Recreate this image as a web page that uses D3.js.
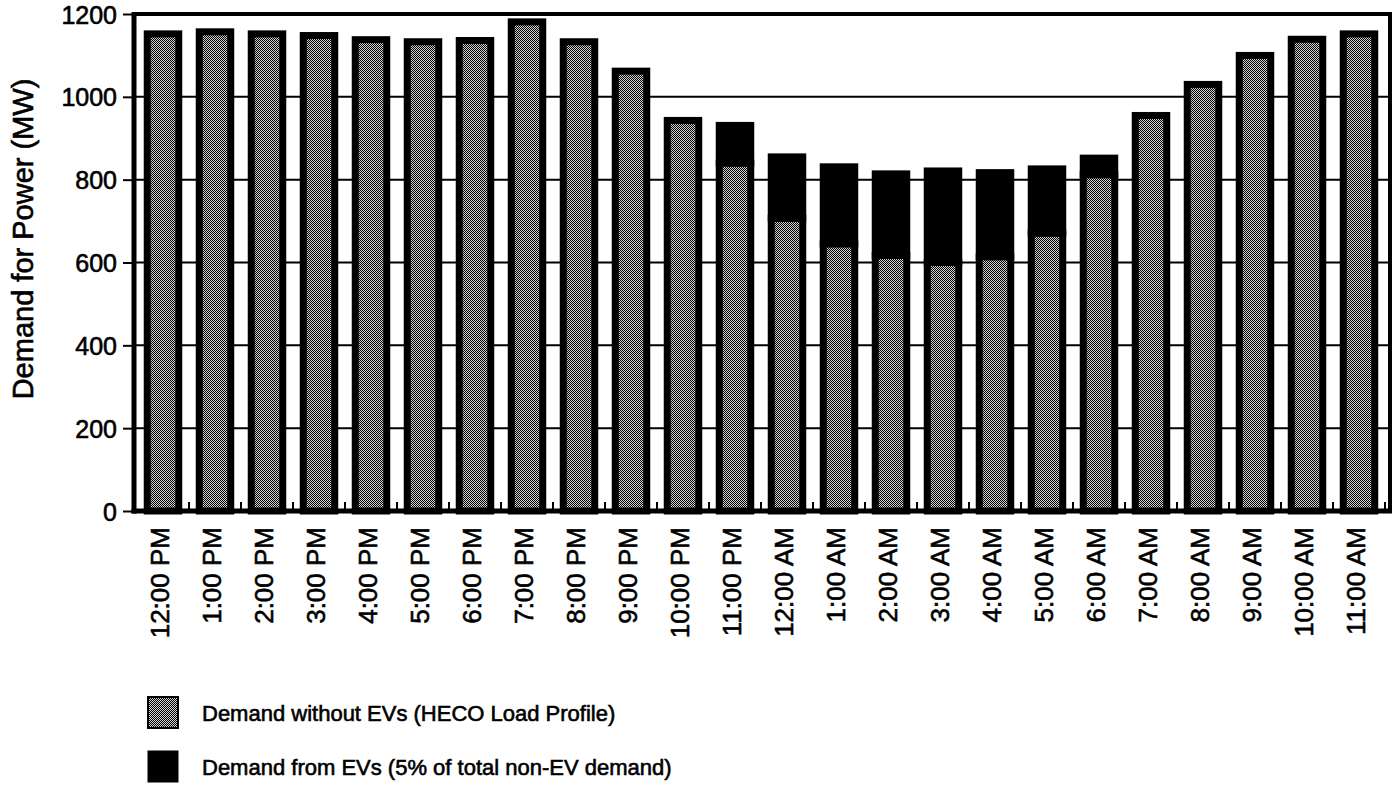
<!DOCTYPE html>
<html>
<head>
<meta charset="utf-8">
<script src="https://cdn.jsdelivr.net/npm/d3@7"></script>
<style>
  html, body { margin: 0; padding: 0; background: #fff; }
  svg { display: block; font-family: "Liberation Sans", Arial, Helvetica, sans-serif; }
  svg text { stroke: #000; stroke-width: 0.6px; }
</style>
</head>
<body>
<svg id="chart" width="1398" height="793"></svg>
<script>
// Hourly load profile, noon to noon
const hours = ["12:00 PM", "1:00 PM", "2:00 PM", "3:00 PM", "4:00 PM", "5:00 PM",
  "6:00 PM", "7:00 PM", "8:00 PM", "9:00 PM", "10:00 PM", "11:00 PM",
  "12:00 AM", "1:00 AM", "2:00 AM", "3:00 AM", "4:00 AM", "5:00 AM",
  "6:00 AM", "7:00 AM", "8:00 AM", "9:00 AM", "10:00 AM", "11:00 AM"];

// Demand without EVs (MW)
const baseDemand = [1152, 1157, 1152, 1148, 1138, 1133, 1136, 1181, 1133, 1062, 943, 840,
  707, 645, 617, 600, 614, 671, 812, 955, 1030, 1100, 1139, 1152];

// Added overnight EV charging demand (MW)
const evDemand = [0, 0, 0, 0, 0, 0, 0, 0, 0, 0, 0, 91,
  148, 186, 197, 221, 203, 155, 40, 0, 0, 0, 0, 0];

const yTicks = [0, 200, 400, 600, 800, 1000, 1200];

const legendLabels = ["Demand without EVs (HECO Load Profile)",
  "Demand from EVs (5% of total non-EV demand)"];

const svg = d3.select("#chart");

const plot = { left: 134, right: 1390, top: 14, bottom: 511 };

const x = d3.scaleBand()
  .domain(hours)
  .range([137, 1385])
  .paddingInner(0.394)
  .paddingOuter(0.197);

const y = d3.scaleLinear()
  .domain([0, 1200])
  .range([plot.bottom, plot.top]);

// Halftone-style dot fill
const defs = svg.append("defs");
const pat = defs.append("pattern")
  .attr("id", "dots")
  .attr("patternUnits", "userSpaceOnUse")
  .attr("width", 2)
  .attr("height", 2);
pat.append("rect").attr("width", 2).attr("height", 2).attr("fill", "#d4d4d4");
pat.append("rect").attr("x", 0).attr("y", 0).attr("width", 1).attr("height", 1).attr("fill", "#000");
pat.append("rect").attr("x", 1).attr("y", 1).attr("width", 1).attr("height", 1).attr("fill", "#000");

// Horizontal gridlines
svg.append("g")
  .selectAll("line")
  .data(yTicks.filter(d => d > 0 && d < 1200))
  .join("line")
  .attr("x1", plot.left)
  .attr("x2", plot.right)
  .attr("y1", d => y(d))
  .attr("y2", d => y(d))
  .attr("stroke", "#000")
  .attr("stroke-width", 2);

// Stacked bars
const rows = hours.map((h, i) => ({ hour: h, base: baseDemand[i], ev: evDemand[i] }));
const barStroke = 7;

const bars = svg.append("g");
bars.selectAll("rect.base")
  .data(rows)
  .join("rect")
  .attr("class", "base")
  .attr("x", d => x(d.hour))
  .attr("width", x.bandwidth())
  .attr("y", d => y(d.base))
  .attr("height", d => y(0) - y(d.base))
  .attr("fill", "url(#dots)")
  .attr("stroke", "#000")
  .attr("stroke-width", barStroke);

bars.selectAll("rect.ev")
  .data(rows.filter(d => d.ev > 0))
  .join("rect")
  .attr("class", "ev")
  .attr("x", d => x(d.hour))
  .attr("width", x.bandwidth())
  .attr("y", d => y(d.base + d.ev))
  .attr("height", d => y(d.base) - y(d.base + d.ev))
  .attr("fill", "#000")
  .attr("stroke", "#000")
  .attr("stroke-width", barStroke);

// Frame: top and right edges
svg.append("path")
  .attr("d", `M${plot.left},${plot.top}H${plot.right}V${plot.bottom}`)
  .attr("fill", "none")
  .attr("stroke", "#000")
  .attr("stroke-width", 4);

// Y axis
const yAxis = svg.append("g")
  .attr("transform", `translate(${plot.left},0)`)
  .call(d3.axisLeft(y).tickValues(yTicks).tickSize(11).tickPadding(6).tickFormat(d3.format("d")));
yAxis.select(".domain").remove();
yAxis.selectAll(".tick line").attr("stroke", "#000").attr("stroke-width", 2);
yAxis.selectAll(".tick text")
  .attr("fill", "#000")
  .style("font-size", "25px")
  .attr("dy", "0.36em");

svg.append("line")
  .attr("x1", plot.left).attr("x2", plot.left)
  .attr("y1", plot.top - 2).attr("y2", plot.bottom + 2.5)
  .attr("stroke", "#000").attr("stroke-width", 5);

// X axis with category labels
const xAxis = svg.append("g")
  .attr("transform", `translate(0,${plot.bottom})`)
  .call(d3.axisBottom(x).tickSize(0).tickPadding(0));
xAxis.select(".domain").remove();
xAxis.selectAll(".tick text")
  .attr("fill", "#000")
  .style("font-size", "26px")
  .attr("text-anchor", "end")
  .attr("transform", "rotate(-90)")
  .attr("x", -16)
  .attr("y", -3)
  .attr("dy", "0.36em");

// Small ticks at the category boundaries
const step = x.step();
const x0 = x.range()[0];
svg.append("g")
  .selectAll("line")
  .data(d3.range(1, hours.length + 1))
  .join("line")
  .attr("x1", k => x0 + k * step)
  .attr("x2", k => x0 + k * step)
  .attr("y1", plot.bottom)
  .attr("y2", plot.bottom - 9)
  .attr("stroke", "#000")
  .attr("stroke-width", 2);

svg.append("line")
  .attr("x1", plot.left - 2.5).attr("x2", plot.right + 2)
  .attr("y1", plot.bottom).attr("y2", plot.bottom)
  .attr("stroke", "#000").attr("stroke-width", 5);

// Y axis title
svg.append("text")
  .attr("transform", "translate(33,239) rotate(-90)")
  .attr("text-anchor", "middle")
  .style("font-size", "29px")
  .attr("fill", "#000")
  .text("Demand for Power (MW)");

// Legend
const legend = svg.append("g").attr("transform", "translate(148,697)");
const items = legend.selectAll("g")
  .data(legendLabels)
  .join("g")
  .attr("transform", (d, i) => `translate(0,${i * 54})`);
items.append("rect")
  .attr("x", 0).attr("y", 0)
  .attr("width", 30).attr("height", 31)
  .attr("fill", (d, i) => i === 0 ? "url(#dots)" : "#000")
  .attr("stroke", "#000")
  .attr("stroke-width", (d, i) => i === 0 ? 2 : 1);
items.append("text")
  .attr("x", 54)
  .attr("y", 16)
  .attr("dy", "0.36em")
  .style("font-size", "22px")
  .attr("fill", "#000")
  .text(d => d);
</script>
</body>
</html>
